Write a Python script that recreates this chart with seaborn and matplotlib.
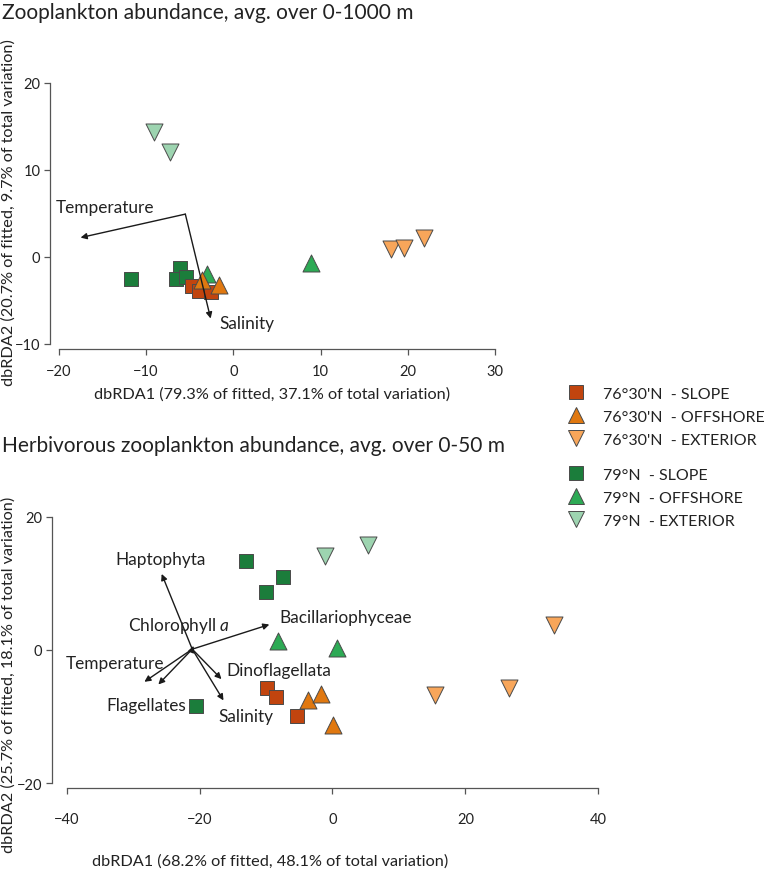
import numpy as np
import pandas as pd
import matplotlib
matplotlib.use("Agg")
import matplotlib.pyplot as plt
import seaborn as sns
from matplotlib.lines import Line2D

# -----------------------------------
# DATA
# -----------------------------------

groups = ["79°N  - SLOPE", "79°N  - OFFSHORE", "79°N  - EXTERIOR",
          "76°30'N  - SLOPE", "76°30'N  - OFFSHORE", "76°30'N  - EXTERIOR"]

colors = ["#1B7D3B", "#2DAA55", "#9DD4B0", "#C1440E", "#E07810", "#F8A65A"]
markers = ["s", "^", "v", "s", "^", "v"]

# top panel: zooplankton 0-1000 m
top_x = {
    "79°N  - SLOPE": [-11.7, -6.1, -6.6, -5.4],
    "79°N  - OFFSHORE": [8.9, -3.0],
    "79°N  - EXTERIOR": [-9.1, -7.3],
    "76°30'N  - SLOPE": [-4.7, -3.9, -2.6],
    "76°30'N  - OFFSHORE": [-3.6, -1.7],
    "76°30'N  - EXTERIOR": [18.1, 19.5, 21.8],
}
top_y = {
    "79°N  - SLOPE": [-2.6, -1.3, -2.5, -2.3],
    "79°N  - OFFSHORE": [-0.7, -2.0],
    "79°N  - EXTERIOR": [14.3, 12.0],
    "76°30'N  - SLOPE": [-3.4, -3.9, -4.1],
    "76°30'N  - OFFSHORE": [-2.7, -3.2],
    "76°30'N  - EXTERIOR": [0.9, 1.0, 2.1],
}
top_vec_names = ["Temperature", "Salinity"]
top_vec_origin = (-5.5, 4.9)
top_vec_x = [-17.5, -2.6]
top_vec_y = [2.2, -7.1]
top_lab_x = [-20.3, -1.6]
top_lab_y = [5.7, -7.6]

# bottom panel: herbivorous zooplankton 0-50 m
bot_x = {
    "79°N  - SLOPE": [-13.0, -7.5, -10.0, -20.5],
    "79°N  - OFFSHORE": [-8.2, 0.75],
    "79°N  - EXTERIOR": [-1.2, 5.4],
    "76°30'N  - SLOPE": [-9.9, -8.5, -5.3],
    "76°30'N  - OFFSHORE": [-3.7, -1.75, 0.15],
    "76°30'N  - EXTERIOR": [15.4, 26.6, 33.4],
}
bot_y = {
    "79°N  - SLOPE": [13.3, 10.9, 8.7, -8.4],
    "79°N  - OFFSHORE": [1.4, 0.3],
    "79°N  - EXTERIOR": [14.1, 15.8],
    "76°30'N  - SLOPE": [-5.8, -7.1, -9.9],
    "76°30'N  - OFFSHORE": [-7.6, -6.7, -11.3],
    "76°30'N  - EXTERIOR": [-6.8, -5.7, 3.8],
}
bot_vec_names = ["Haptophyta", "Chlorophyll $a$", "Bacillariophyceae", "Temperature",
                 "Dinoflagellata", "Flagellates", "Salinity"]
bot_vec_origin = (-21.1, 0.1)
bot_vec_x = [-25.7, -20.9, -9.5, -28.3, -16.7, -26.2, -16.4]
bot_vec_y = [11.4, 0.6, 3.8, -4.8, -4.4, -5.2, -7.6]
bot_lab_x = [-32.7, -30.8, -8.0, -40.2, -16.0, -34.0, -17.1]
bot_lab_y = [13.6, 3.7, 4.9, -2.0, -3.0, -8.3, -9.9]


def to_frame(xd, yd):
    rows = []
    for g in groups:
        for a, b in zip(xd[g], yd[g]):
            rows.append({"x": a, "y": b, "group": g})
    return pd.DataFrame(rows)


top_df = to_frame(top_x, top_y)
bot_df = to_frame(bot_x, bot_y)

# -----------------------------------
# STYLE
# -----------------------------------

sns.set_style("ticks")
plt.rcParams["font.family"] = ["Lato", "DejaVu Sans"]
plt.rcParams["mathtext.fontset"] = "custom"
plt.rcParams["mathtext.it"] = "Lato:italic"
plt.rcParams["mathtext.rm"] = "Lato"

TXT = "#222222"
AX = "#555555"

fig = plt.figure(figsize=(7.68, 8.7), dpi=100)

ax1 = fig.add_axes([50 / 768, 1 - 350 / 870, 454 / 768, 275 / 870])
ax2 = fig.add_axes([52 / 768, 1 - 789 / 870, 553 / 768, 278 / 870])

pal = dict(zip(groups, colors))
mk = dict(zip(groups, markers))


def draw_points(ax, df):
    for g in groups:
        sub = df[df["group"] == g]
        size = 110 if mk[g] == "s" else 150
        sns.scatterplot(data=sub, x="x", y="y", color=pal[g], marker=mk[g],
                        s=size, edgecolor="#4a4a4a", linewidth=0.7, ax=ax,
                        legend=False, zorder=3)


def draw_vectors(ax, origin, vx, vy, names, lx, ly):
    for tx, ty in zip(vx, vy):
        ax.annotate("", xy=(tx, ty), xytext=origin,
                    arrowprops=dict(arrowstyle="-|>", color="#1a1a1a", lw=1.0,
                                    mutation_scale=9, shrinkA=0, shrinkB=0),
                    zorder=4)
    for n, a, b in zip(names, lx, ly):
        ax.text(a, b, n, ha="left", va="center", fontsize=12.4, color=TXT, zorder=5)


draw_points(ax1, top_df)
draw_vectors(ax1, top_vec_origin, top_vec_x, top_vec_y, top_vec_names, top_lab_x, top_lab_y)
draw_points(ax2, bot_df)
draw_vectors(ax2, bot_vec_origin, bot_vec_x, bot_vec_y, bot_vec_names, bot_lab_x, bot_lab_y)

ax1.set_xlim(-21.0, 31.0)
ax1.set_ylim(-10.6, 21.0)
ax1.set_xticks([-20, -10, 0, 10, 20, 30])
ax1.set_yticks([-10, 0, 10, 20])
ax1.spines["left"].set_bounds(-10, 20)
ax1.spines["bottom"].set_bounds(-20, 30)

ax2.set_xlim(-42.2, 41.0)
ax2.set_ylim(-20.75, 21.0)
ax2.set_xticks([-40, -20, 0, 20, 40])
ax2.set_yticks([-20, 0, 20])
ax2.spines["left"].set_bounds(-20, 20)
ax2.spines["bottom"].set_bounds(-40, 40)

for ax, xpad in [(ax1, 7), (ax2, 13)]:
    sns.despine(ax=ax)
    ax.spines["left"].set_color(AX)
    ax.spines["bottom"].set_color(AX)
    ax.spines["left"].set_linewidth(0.9)
    ax.spines["bottom"].set_linewidth(0.9)
    ax.tick_params(axis="both", direction="out", length=4, width=0.9,
                   color=AX, labelsize=10.5, labelcolor=TXT)
    ax.tick_params(axis="x", pad=xpad)
    ax.tick_params(axis="y", pad=3)
    ax.set_xlabel("")
    ax.set_ylabel("")
    ax.set_facecolor("none")

# titles and axis labels
fig.text(2 / 768, 1 - 13 / 870, "Zooplankton abundance, avg. over 0-1000 m",
         ha="left", va="center", fontsize=15, color=TXT)
fig.text(2 / 768, 1 - 446 / 870, "Herbivorous zooplankton abundance, avg. over 0-50 m",
         ha="left", va="center", fontsize=15, color=TXT)
fig.text(272 / 768, 1 - 395 / 870, "dbRDA1 (79.3% of fitted, 37.1% of total variation)",
         ha="center", va="center", fontsize=11.7, color=TXT)
fig.text(9 / 768, 1 - 213 / 870, "dbRDA2 (20.7% of fitted, 9.7% of total variation)",
         ha="center", va="center", rotation=90, fontsize=11.7, color=TXT)
fig.text(270 / 768, 1 - 862 / 870, "dbRDA1 (68.2% of fitted, 48.1% of total variation)",
         ha="center", va="center", fontsize=11.7, color=TXT)
fig.text(9 / 768, 1 - 675 / 870, "dbRDA2 (25.7% of fitted, 18.1% of total variation)",
         ha="center", va="center", rotation=90, fontsize=11.7, color=TXT)

# legend (two blocks)
leg_order = [3, 4, 5, 0, 1, 2]
handles = [Line2D([0], [0], marker=markers[i], color="none", markerfacecolor=colors[i],
                  markeredgecolor="#4a4a4a", markeredgewidth=0.7,
                  markersize=11 if markers[i] != "s" else 10)
           for i in leg_order]
labels = [groups[i] for i in leg_order]

for k, yc in [(0, 417.5), (3, 498.5)]:
    lg = fig.legend(handles[k:k + 3], labels[k:k + 3], loc="center left",
                    bbox_to_anchor=(566 / 768, 1 - yc / 870), frameon=False,
                    fontsize=11.5, handlelength=1.3, handletextpad=1.0,
                    labelspacing=0.55, borderpad=0, borderaxespad=0)
    for t in lg.get_texts():
        t.set_color(TXT)

fig.savefig("out.png", dpi=100)
